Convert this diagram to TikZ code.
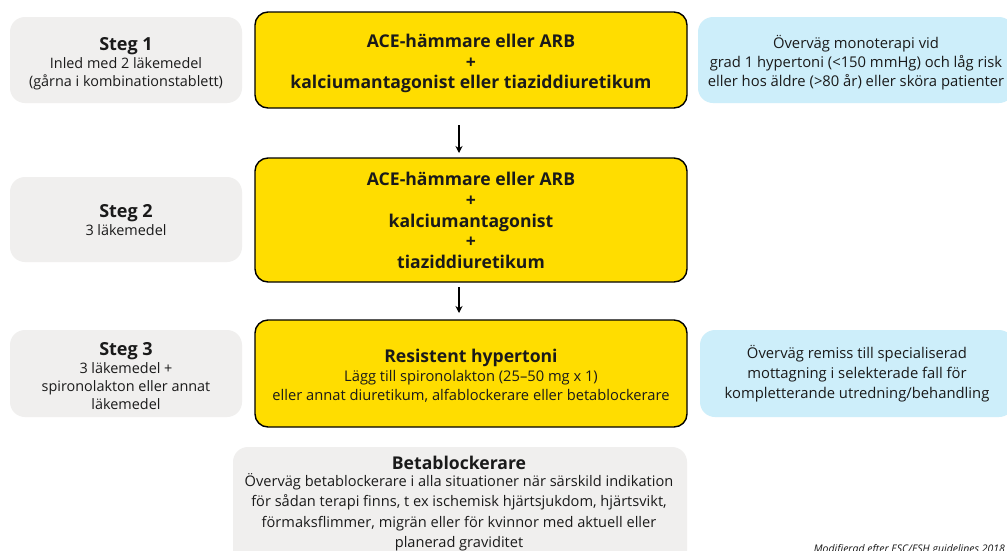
\documentclass[tikz,border=0pt]{standalone}
\usepackage{fontspec}
\setmainfont{Open Sans}
\usetikzlibrary{arrows.meta,calc}

\definecolor{ybg}{RGB}{255,221,0}
\definecolor{gbg}{RGB}{240,239,238}
\definecolor{bbg}{RGB}{205,238,250}
\definecolor{ink}{RGB}{26,26,26}

\begin{document}
\begin{tikzpicture}[x=1pt,y=-1pt,
  every node/.style={inner sep=0pt, outer sep=0pt, text=ink},
  % box shapes
  drug/.style={draw=black, line width=1.4pt, fill=ybg, rounded corners=13pt, minimum width=432pt},
  stepbox/.style={fill=gbg, rounded corners=15pt, minimum width=232pt},
  notebox/.style={fill=bbg, rounded corners=15pt, minimum width=316pt},
  % texts inside the boxes
  drugtext/.style={align=center, font=\bfseries\fontsize{17.6}{20.8}\selectfont},
  steptext/.style={align=center, font=\fontsize{14.4}{18}\selectfont},
  notetext/.style={align=center, font=\fontsize{14.8}{19}\selectfont},
  body/.style={align=center, font=\fontsize{14.6}{20.5}\selectfont},
  title/.style={font=\bfseries\fontsize{18}{21}\selectfont},
  flow/.style={-{Stealth[length=7pt,width=7pt]}, line width=1.1pt, black}
]
\useasboundingbox (0,0) rectangle (1007,550);
\fill[white] (0,0) rectangle (1007,550);

% treatment steps (yellow)
\node[drug, minimum height=96pt] (d1) at (471,60) {};
\node[drugtext] (d1t) at ($(d1)+(0,3.5)$)
  {ACE-hämmare eller ARB\\+\\kalciumantagonist eller tiaziddiuretikum};
\node[drug, minimum height=124pt] (d2) at (471,220) {};
\node[drugtext] (d2t) at ($(d2)+(0,0.5)$)
  {ACE-hämmare eller ARB\\+\\kalciumantagonist\\+\\tiaziddiuretikum};
\node[drug, minimum height=107pt] (d3) at (471,373.5) {};
\node[drugtext, font=\fontsize{14.7}{19}\selectfont] (d3t) at ($(d3)+(0,2.5)$)
  {{\bfseries\fontsize{17.6}{21}\selectfont Resistent hypertoni}\\Lägg till spironolakton (25–50 mg x 1)\\eller annat diuretikum, alfablockerare eller betablockerare};

% step labels (grey)
\node[stepbox, minimum height=86pt] (s1) at (126,60) {};
\node[steptext] (s1t) at ($(s1)+(0,3.5)$)
  {{\bfseries\fontsize{18}{19}\selectfont Steg 1}\\Inled med 2 läkemedel\\(gårna i kombinationstablett)};
\node[stepbox, minimum height=85pt] (s2) at (126,219.5) {};
\node[steptext] (s2t) at ($(s2)+(0,0.5)$)
  {{\bfseries\fontsize{18}{21}\selectfont Steg 2}\\3 läkemedel};
\node[stepbox, minimum height=87pt] (s3) at (126,373.5) {};
\node[steptext] (s3t) at ($(s3)+(0,2.5)$)
  {{\bfseries\fontsize{18}{19}\selectfont Steg 3}\\3 läkemedel +\\spironolakton eller annat\\läkemedel};

% side notes (blue)
\node[notebox, minimum height=86pt] (n1) at (856,60) {};
\node[notetext] (n1t) at ($(n1)+(0,2.5)$)
  {Överväg monoterapi vid\\grad 1 hypertoni (<150 mmHg) och låg risk\\eller hos äldre (>80 år) eller sköra patienter};
\node[notebox, minimum height=87pt, minimum width=314pt] (n2) at (857,373.5) {};
\node[notetext, font=\fontsize{14.8}{20}\selectfont] (n2t) at ($(n2)+(0,0.5)$)
  {Överväg remiss till specialiserad\\mottagning i selekterade fall för\\kompletterande utredning/behandling};

% beta blocker note
\fill[gbg, rounded corners=15pt] (233,447) rectangle (687,580);
\node[title, font=\bfseries\fontsize{17.6}{20}\selectfont] (bbt) at (459,463) {Betablockerare};
\node[body, anchor=north] (bb) at (459,473)
  {Överväg betablockerare i alla situationer när särskild indikation\\för sådan terapi finns, t ex ischemisk hjärtsjukdom, hjärtsvikt,\\förmaksflimmer, migrän eller för kvinnor med aktuell eller\\planerad graviditet};

% connectors between the yellow steps
\coordinate (a1s) at ($(d1.south)+(-12,17)$);
\coordinate (a1e) at ($(d2.north)+(-12,-5)$);
\coordinate (a2s) at ($(d2.south)+(-12,5)$);
\coordinate (a2e) at ($(d3.north)+(-12,-7)$);
\draw[flow] (a1s) -- (a1e);
\draw[flow] (a2s) -- (a2e);

% source
\node[anchor=base east, font=\itshape\fontsize{10.5}{12}\selectfont] (src) at (1005,552)
  {Modifierad efter ESC/ESH guidelines 2018};
\end{tikzpicture}
\end{document}
